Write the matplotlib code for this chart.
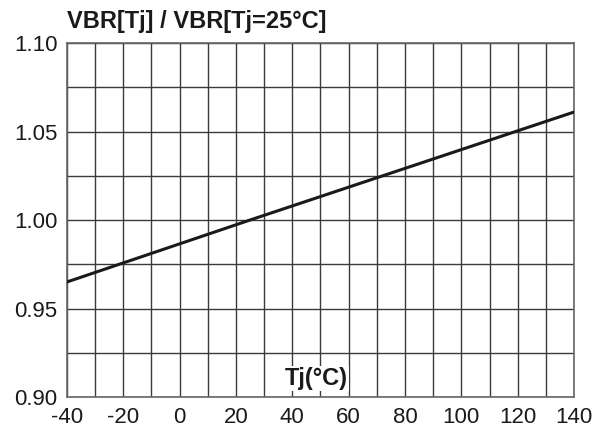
import matplotlib
matplotlib.use('Agg')
from matplotlib import pyplot as plt
import numpy as np

# Data
tj = [-40, 25, 140]
vbr_ratio = [0.965, 1.000, 1.061]

x_ticks = [-40, -20, 0, 20, 40, 60, 80, 100, 120, 140]
y_ticks = [0.90, 0.95, 1.00, 1.05, 1.10]
y_tick_labels = ["0.90", "0.95", "1.00", "1.05", "1.10"]

plt.rcParams['font.family'] = ['Liberation Sans', 'DejaVu Sans']
plt.rcParams['axes.unicode_minus'] = False

fig = plt.figure(figsize=(5.97, 4.30), dpi=100)
ax = fig.add_axes([0.1122, 0.0767, 0.8493, 0.8233])

# grid every 10 degC and every 0.025
for xv in np.arange(-40, 141, 10):
    ax.axvline(xv, color='#3a3a3a', linewidth=1.0, zorder=1)
for yv in np.arange(0.90, 1.1001, 0.025):
    ax.axhline(yv, color='#3a3a3a', linewidth=1.0, zorder=1)

ax.plot(tj, vbr_ratio, color='#1a1a1a', linewidth=2.2, zorder=3)

ax.set_xlim(-40, 140)
ax.set_ylim(0.90, 1.10)
ax.set_xticks(x_ticks)
ax.set_yticks(y_ticks)
ax.set_yticklabels(y_tick_labels)
ax.tick_params(axis='both', length=0, labelsize=16, colors='#1a1a1a')
ax.tick_params(axis='x', pad=7)
ax.tick_params(axis='y', pad=7)
for s in ax.spines.values():
    s.set_color('#666666')
    s.set_linewidth(1.2)

fig.text(0.1122, 0.935, "VBR[Tj] / VBR[Tj=25°C]", fontsize=17, fontweight='bold',
         ha='left', va='baseline', color='#1a1a1a')
ax.text(48.4, 0.9068, "Tj(°C)", fontsize=17, fontweight='bold', ha='center', va='baseline',
        color='#1a1a1a', zorder=4,
        bbox=dict(facecolor='white', edgecolor='none', pad=1))

fig.savefig("out.png", dpi=100)
